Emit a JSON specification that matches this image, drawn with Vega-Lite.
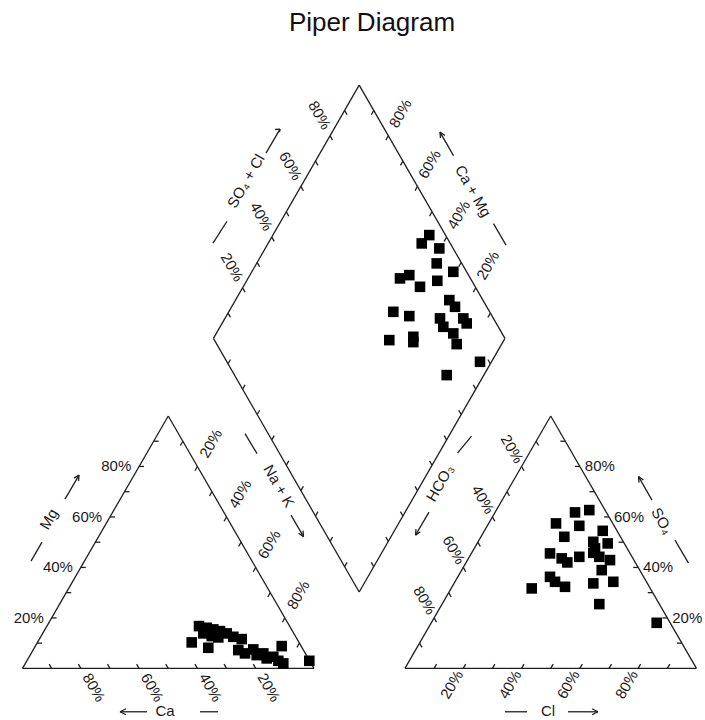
{
  "$schema": "https://vega.github.io/schema/vega-lite/v6.json",
  "width": 705,
  "height": 720,
  "autosize": "none",
  "padding": 0,
  "background": "white",
  "config": {"view": {"stroke": null}, "text": {"font": "Liberation Sans", "fontSize": 15, "color": "#1a1a1a"}},
  "datasets": {
    "segs": [
      {"x": 0, "y": 0, "x2": 100, "y2": 0},
      {"x": 0, "y": 0, "x2": 50, "y2": 86.6},
      {"x": 100, "y": 0, "x2": 50, "y2": 86.6},
      {"x": 131.2, "y": 0, "x2": 231.2, "y2": 0},
      {"x": 131.2, "y": 0, "x2": 181.2, "y2": 86.6},
      {"x": 231.2, "y": 0, "x2": 181.2, "y2": 86.6},
      {"x": 65.5, "y": 113.2, "x2": 115.5, "y2": 200.1},
      {"x": 115.5, "y": 200.1, "x2": 165.5, "y2": 113.2},
      {"x": 165.5, "y": 113.2, "x2": 115.5, "y2": 26.2},
      {"x": 115.5, "y": 26.2, "x2": 65.5, "y2": 113.2},

      {"x": 10, "y": 0, "x2": 9.15, "y2": 1.47},
      {"x": 20, "y": 0, "x2": 19.15, "y2": 1.47},
      {"x": 30, "y": 0, "x2": 29.15, "y2": 1.47},
      {"x": 40, "y": 0, "x2": 39.15, "y2": 1.47},
      {"x": 50, "y": 0, "x2": 49.15, "y2": 1.47},
      {"x": 60, "y": 0, "x2": 59.15, "y2": 1.47},
      {"x": 70, "y": 0, "x2": 69.15, "y2": 1.47},
      {"x": 80, "y": 0, "x2": 79.15, "y2": 1.47},
      {"x": 90, "y": 0, "x2": 89.15, "y2": 1.47},

      {"x": 5, "y": 8.66, "x2": 6.7, "y2": 8.66},
      {"x": 10, "y": 17.32, "x2": 11.7, "y2": 17.32},
      {"x": 15, "y": 25.98, "x2": 16.7, "y2": 25.98},
      {"x": 20, "y": 34.64, "x2": 21.7, "y2": 34.64},
      {"x": 25, "y": 43.3, "x2": 26.7, "y2": 43.3},
      {"x": 30, "y": 51.96, "x2": 31.7, "y2": 51.96},
      {"x": 35, "y": 60.62, "x2": 36.7, "y2": 60.62},
      {"x": 40, "y": 69.28, "x2": 41.7, "y2": 69.28},
      {"x": 45, "y": 77.94, "x2": 46.7, "y2": 77.94},

      {"x": 55, "y": 77.94, "x2": 54.15, "y2": 76.47},
      {"x": 60, "y": 69.28, "x2": 59.15, "y2": 67.81},
      {"x": 65, "y": 60.62, "x2": 64.15, "y2": 59.15},
      {"x": 70, "y": 51.96, "x2": 69.15, "y2": 50.49},
      {"x": 75, "y": 43.3, "x2": 74.15, "y2": 41.83},
      {"x": 80, "y": 34.64, "x2": 79.15, "y2": 33.17},
      {"x": 85, "y": 25.98, "x2": 84.15, "y2": 24.51},
      {"x": 90, "y": 17.32, "x2": 89.15, "y2": 15.85},
      {"x": 95, "y": 8.66, "x2": 94.15, "y2": 7.19},

      {"x": 141.2, "y": 0, "x2": 142.05, "y2": 1.47},
      {"x": 151.2, "y": 0, "x2": 152.05, "y2": 1.47},
      {"x": 161.2, "y": 0, "x2": 162.05, "y2": 1.47},
      {"x": 171.2, "y": 0, "x2": 172.05, "y2": 1.47},
      {"x": 181.2, "y": 0, "x2": 182.05, "y2": 1.47},
      {"x": 191.2, "y": 0, "x2": 192.05, "y2": 1.47},
      {"x": 201.2, "y": 0, "x2": 202.05, "y2": 1.47},
      {"x": 211.2, "y": 0, "x2": 212.05, "y2": 1.47},
      {"x": 221.2, "y": 0, "x2": 222.05, "y2": 1.47},

      {"x": 226.2, "y": 8.66, "x2": 224.5, "y2": 8.66},
      {"x": 221.2, "y": 17.32, "x2": 219.5, "y2": 17.32},
      {"x": 216.2, "y": 25.98, "x2": 214.5, "y2": 25.98},
      {"x": 211.2, "y": 34.64, "x2": 209.5, "y2": 34.64},
      {"x": 206.2, "y": 43.3, "x2": 204.5, "y2": 43.3},
      {"x": 201.2, "y": 51.96, "x2": 199.5, "y2": 51.96},
      {"x": 196.2, "y": 60.62, "x2": 194.5, "y2": 60.62},
      {"x": 191.2, "y": 69.28, "x2": 189.5, "y2": 69.28},
      {"x": 186.2, "y": 77.94, "x2": 184.5, "y2": 77.94},

      {"x": 136.2, "y": 8.66, "x2": 137.05, "y2": 7.19},
      {"x": 141.2, "y": 17.32, "x2": 142.05, "y2": 15.85},
      {"x": 146.2, "y": 25.98, "x2": 147.05, "y2": 24.51},
      {"x": 151.2, "y": 34.64, "x2": 152.05, "y2": 33.17},
      {"x": 156.2, "y": 43.3, "x2": 157.05, "y2": 41.83},
      {"x": 161.2, "y": 51.96, "x2": 162.05, "y2": 50.49},
      {"x": 166.2, "y": 60.62, "x2": 167.05, "y2": 59.15},
      {"x": 171.2, "y": 69.28, "x2": 172.05, "y2": 67.81},
      {"x": 176.2, "y": 77.94, "x2": 177.05, "y2": 76.47},

      {"x": 70.5, "y": 121.89, "x2": 71.35, "y2": 120.42},
      {"x": 75.5, "y": 130.58, "x2": 76.35, "y2": 129.11},
      {"x": 80.5, "y": 139.27, "x2": 81.35, "y2": 137.8},
      {"x": 85.5, "y": 147.96, "x2": 86.35, "y2": 146.49},
      {"x": 90.5, "y": 156.65, "x2": 91.35, "y2": 155.18},
      {"x": 95.5, "y": 165.34, "x2": 96.35, "y2": 163.87},
      {"x": 100.5, "y": 174.03, "x2": 101.35, "y2": 172.56},
      {"x": 105.5, "y": 182.72, "x2": 106.35, "y2": 181.25},
      {"x": 110.5, "y": 191.41, "x2": 111.35, "y2": 189.94},

      {"x": 160.5, "y": 121.89, "x2": 159.65, "y2": 120.42},
      {"x": 155.5, "y": 130.58, "x2": 154.65, "y2": 129.11},
      {"x": 150.5, "y": 139.27, "x2": 149.65, "y2": 137.8},
      {"x": 145.5, "y": 147.96, "x2": 144.65, "y2": 146.49},
      {"x": 140.5, "y": 156.65, "x2": 139.65, "y2": 155.18},
      {"x": 135.5, "y": 165.34, "x2": 134.65, "y2": 163.87},
      {"x": 130.5, "y": 174.03, "x2": 129.65, "y2": 172.56},
      {"x": 125.5, "y": 182.72, "x2": 124.65, "y2": 181.25},
      {"x": 120.5, "y": 191.41, "x2": 119.65, "y2": 189.94},

      {"x": 70.5, "y": 104.5, "x2": 71.35, "y2": 105.97},
      {"x": 75.5, "y": 95.8, "x2": 76.35, "y2": 97.27},
      {"x": 80.5, "y": 87.1, "x2": 81.35, "y2": 88.57},
      {"x": 85.5, "y": 78.4, "x2": 86.35, "y2": 79.87},
      {"x": 90.5, "y": 69.7, "x2": 91.35, "y2": 71.17},
      {"x": 95.5, "y": 61.0, "x2": 96.35, "y2": 62.47},
      {"x": 100.5, "y": 52.3, "x2": 101.35, "y2": 53.77},
      {"x": 105.5, "y": 43.6, "x2": 106.35, "y2": 45.07},
      {"x": 110.5, "y": 34.9, "x2": 111.35, "y2": 36.37},

      {"x": 160.5, "y": 104.5, "x2": 159.65, "y2": 105.97},
      {"x": 155.5, "y": 95.8, "x2": 154.65, "y2": 97.27},
      {"x": 150.5, "y": 87.1, "x2": 149.65, "y2": 88.57},
      {"x": 145.5, "y": 78.4, "x2": 144.65, "y2": 79.87},
      {"x": 140.5, "y": 69.7, "x2": 139.65, "y2": 71.17},
      {"x": 135.5, "y": 61.0, "x2": 134.65, "y2": 62.47},
      {"x": 130.5, "y": 52.3, "x2": 129.65, "y2": 53.77},
      {"x": 125.5, "y": 43.6, "x2": 124.65, "y2": 45.07},
      {"x": 120.5, "y": 34.9, "x2": 119.65, "y2": 36.37},

      {"x": 2.92, "y": 36.81, "x2": 6.69, "y2": 43.33},
      {"x": 14.58, "y": 58.08, "x2": 19.38, "y2": 66.31},
      {"x": 19.38, "y": 66.31, "x2": 19.21, "y2": 64.25},
      {"x": 19.38, "y": 66.31, "x2": 17.67, "y2": 65.28},

      {"x": 33.45, "y": -14.88, "x2": 42.71, "y2": -14.88},
      {"x": 33.45, "y": -14.88, "x2": 35.51, "y2": -13.85},
      {"x": 33.45, "y": -14.88, "x2": 35.51, "y2": -15.91},
      {"x": 60.89, "y": -14.88, "x2": 67.07, "y2": -14.88},

      {"x": 76.33, "y": 80.55, "x2": 80.45, "y2": 73.69},
      {"x": 92.11, "y": 52.59, "x2": 96.4, "y2": 45.21},
      {"x": 96.4, "y": 45.21, "x2": 94.72, "y2": 46.38},
      {"x": 96.4, "y": 45.21, "x2": 96.23, "y2": 47.27},

      {"x": 65.35, "y": 145.9, "x2": 70.15, "y2": 153.4},
      {"x": 83.53, "y": 176.78, "x2": 88.34, "y2": 185.0},
      {"x": 88.34, "y": 185.0, "x2": 88.16, "y2": 184.0},
      {"x": 88.34, "y": 185.0, "x2": 86.66, "y2": 184.87},

      {"x": 143.22, "y": 183.98, "x2": 147.86, "y2": 175.92},
      {"x": 143.22, "y": 183.98, "x2": 144.9, "y2": 182.8},
      {"x": 143.22, "y": 183.98, "x2": 143.4, "y2": 181.9},
      {"x": 161.58, "y": 152.59, "x2": 165.87, "y2": 145.21},

      {"x": 149.23, "y": 73.86, "x2": 154.03, "y2": 79.69},
      {"x": 139.45, "y": 53.62, "x2": 134.82, "y2": 45.73},
      {"x": 134.82, "y": 45.73, "x2": 134.99, "y2": 47.79},
      {"x": 134.82, "y": 45.73, "x2": 136.5, "y2": 46.9},

      {"x": 211.32, "y": 65.8, "x2": 215.95, "y2": 57.74},
      {"x": 211.32, "y": 65.8, "x2": 213.0, "y2": 64.63},
      {"x": 211.32, "y": 65.8, "x2": 211.49, "y2": 63.74},
      {"x": 223.84, "y": 44.01, "x2": 228.47, "y2": 36.12},

      {"x": 165.52, "y": -14.88, "x2": 173.07, "y2": -14.88},
      {"x": 187.14, "y": -14.88, "x2": 197.43, "y2": -14.88},
      {"x": 197.43, "y": -14.88, "x2": 195.37, "y2": -13.85},
      {"x": 197.43, "y": -14.88, "x2": 195.37, "y2": -15.91}
    ],
    "labels": [
      {"t": "20%", "x": 7.3, "y": 17.32, "g": "hr"},
      {"t": "40%", "x": 17.3, "y": 34.64, "g": "hr"},
      {"t": "60%", "x": 27.3, "y": 51.96, "g": "hr"},
      {"t": "80%", "x": 37.3, "y": 69.28, "g": "hr"},
      {"t": "20%", "x": 222.9, "y": 17.32, "g": "hl"},
      {"t": "40%", "x": 212.9, "y": 34.64, "g": "hl"},
      {"t": "60%", "x": 202.9, "y": 51.96, "g": "hl"},
      {"t": "80%", "x": 192.9, "y": 69.28, "g": "hl"},
      {"t": "80%", "x": 21.89, "y": -2.13, "g": "r60l"},
      {"t": "60%", "x": 41.89, "y": -2.13, "g": "r60l"},
      {"t": "40%", "x": 61.89, "y": -2.13, "g": "r60l"},
      {"t": "20%", "x": 81.89, "y": -2.13, "g": "r60l"},
      {"t": "20%", "x": 170.51, "y": 70.82, "g": "r60r"},
      {"t": "40%", "x": 160.51, "y": 53.5, "g": "r60r"},
      {"t": "60%", "x": 150.51, "y": 36.18, "g": "r60r"},
      {"t": "80%", "x": 140.51, "y": 18.86, "g": "r60r"},
      {"t": "20%", "x": 74.47, "y": 133.15, "g": "r60r"},
      {"t": "40%", "x": 84.47, "y": 150.53, "g": "r60r"},
      {"t": "60%", "x": 94.47, "y": 167.91, "g": "r60r"},
      {"t": "80%", "x": 104.47, "y": 185.29, "g": "r60r"},
      {"t": "20%", "x": 62.06, "y": 72.71, "g": "m60l"},
      {"t": "40%", "x": 72.06, "y": 55.39, "g": "m60l"},
      {"t": "60%", "x": 82.06, "y": 38.07, "g": "m60l"},
      {"t": "80%", "x": 92.06, "y": 20.75, "g": "m60l"},
      {"t": "20%", "x": 157.08, "y": 133.74, "g": "m60l"},
      {"t": "40%", "x": 147.08, "y": 151.12, "g": "m60l"},
      {"t": "60%", "x": 137.08, "y": 168.5, "g": "m60l"},
      {"t": "80%", "x": 127.08, "y": 185.88, "g": "m60l"},
      {"t": "20%", "x": 149.83, "y": -1.1, "g": "m60r"},
      {"t": "40%", "x": 169.83, "y": -1.1, "g": "m60r"},
      {"t": "60%", "x": 189.83, "y": -1.1, "g": "m60r"},
      {"t": "80%", "x": 209.83, "y": -1.1, "g": "m60r"},
      {"t": "Ca", "x": 48.89, "y": -14.6, "g": "t0"},
      {"t": "Cl", "x": 180.27, "y": -14.6, "g": "t0"},
      {"t": "Na + K", "x": 87.99, "y": 62.54, "g": "t60"},
      {"t": "Ca + Mg", "x": 154.55, "y": 163.74, "g": "t60"},
      {"t": "SO₄", "x": 219.38, "y": 50.53, "g": "t60"},
      {"t": "Mg", "x": 9.09, "y": 51.22, "g": "tm60"},
      {"t": "SO₄ + Cl", "x": 76.67, "y": 167.17, "g": "tm60"},
      {"t": "HCO₃", "x": 143.22, "y": 63.57, "g": "tm60"},
      {"t": "Piper Diagram", "x": 119.9, "y": 218.6, "g": "title"}
    ],
    "points": [
      {"panel": "cations", "x": 60.55, "y": 14.51},
      {"panel": "cations", "x": 63.19, "y": 13.93},
      {"panel": "cations", "x": 65.45, "y": 13.38},
      {"panel": "cations", "x": 67.75, "y": 12.8},
      {"panel": "cations", "x": 70.05, "y": 12.01},
      {"panel": "cations", "x": 72.32, "y": 10.84},
      {"panel": "cations", "x": 75.2, "y": 10.05},
      {"panel": "cations", "x": 62.02, "y": 12.01},
      {"panel": "cations", "x": 64.91, "y": 11.08},
      {"panel": "cations", "x": 67.17, "y": 10.63},
      {"panel": "cations", "x": 74.03, "y": 6.28},
      {"panel": "cations", "x": 76.33, "y": 5.15},
      {"panel": "cations", "x": 79.18, "y": 6.52},
      {"panel": "cations", "x": 80.34, "y": 4.56},
      {"panel": "cations", "x": 82.61, "y": 5.15},
      {"panel": "cations", "x": 83.77, "y": 3.43},
      {"panel": "cations", "x": 86.04, "y": 3.98},
      {"panel": "cations", "x": 87.75, "y": 2.61},
      {"panel": "cations", "x": 89.47, "y": 1.72},
      {"panel": "cations", "x": 88.92, "y": 7.65},
      {"panel": "cations", "x": 98.39, "y": 2.61},
      {"panel": "cations", "x": 58.04, "y": 8.92},
      {"panel": "cations", "x": 63.74, "y": 7.07},
      {"panel": "anions", "x": 189.54, "y": 53.52},
      {"panel": "anions", "x": 194.44, "y": 54.31},
      {"panel": "anions", "x": 183.02, "y": 49.74},
      {"panel": "anions", "x": 191.01, "y": 48.92},
      {"panel": "anions", "x": 199.04, "y": 47.2},
      {"panel": "anions", "x": 185.87, "y": 45.15},
      {"panel": "anions", "x": 195.81, "y": 43.43},
      {"panel": "anions", "x": 200.75, "y": 42.88},
      {"panel": "anions", "x": 196.4, "y": 41.17},
      {"panel": "anions", "x": 180.96, "y": 39.45},
      {"panel": "anions", "x": 184.97, "y": 37.74},
      {"panel": "anions", "x": 186.9, "y": 36.36},
      {"panel": "anions", "x": 191.01, "y": 38.28},
      {"panel": "anions", "x": 195.81, "y": 39.66},
      {"panel": "anions", "x": 197.87, "y": 38.28},
      {"panel": "anions", "x": 201.54, "y": 37.15},
      {"panel": "anions", "x": 198.7, "y": 33.72},
      {"panel": "anions", "x": 195.81, "y": 29.16},
      {"panel": "anions", "x": 202.68, "y": 29.71},
      {"panel": "anions", "x": 180.96, "y": 31.42},
      {"panel": "anions", "x": 182.68, "y": 29.71},
      {"panel": "anions", "x": 186.11, "y": 27.99},
      {"panel": "anions", "x": 174.68, "y": 27.44},
      {"panel": "anions", "x": 197.87, "y": 22.06},
      {"panel": "anions", "x": 217.56, "y": 15.64},
      {"panel": "diamond", "x": 139.55, "y": 148.65},
      {"panel": "diamond", "x": 136.95, "y": 145.8},
      {"panel": "diamond", "x": 142.99, "y": 144.08},
      {"panel": "diamond", "x": 142.09, "y": 138.94},
      {"panel": "diamond", "x": 147.79, "y": 136.05},
      {"panel": "diamond", "x": 129.5, "y": 133.79},
      {"panel": "diamond", "x": 132.69, "y": 134.92},
      {"panel": "diamond", "x": 136.36, "y": 130.91},
      {"panel": "diamond", "x": 142.3, "y": 132.97},
      {"panel": "diamond", "x": 146.42, "y": 126.35},
      {"panel": "diamond", "x": 148.37, "y": 124.05},
      {"panel": "diamond", "x": 143.22, "y": 120.07},
      {"panel": "diamond", "x": 151.22, "y": 120.07},
      {"panel": "diamond", "x": 152.38, "y": 118.35},
      {"panel": "diamond", "x": 127.2, "y": 122.33},
      {"panel": "diamond", "x": 132.69, "y": 120.86},
      {"panel": "diamond", "x": 144.36, "y": 117.19},
      {"panel": "diamond", "x": 147.79, "y": 114.92},
      {"panel": "diamond", "x": 125.83, "y": 112.62},
      {"panel": "diamond", "x": 134.07, "y": 113.76},
      {"panel": "diamond", "x": 134.07, "y": 111.94},
      {"panel": "diamond", "x": 148.95, "y": 111.25},
      {"panel": "diamond", "x": 156.95, "y": 105.18},
      {"panel": "diamond", "x": 145.52, "y": 100.62}
    ]
  },
  "encoding": {
    "x": {"field": "x", "type": "quantitative", "scale": {"domain": [-7.72, 234.13], "nice": false, "zero": false}, "axis": null},
    "y": {"field": "y", "type": "quantitative", "scale": {"domain": [-17.7, 229.3], "nice": false, "zero": false}, "axis": null}
  },
  "layer": [
    {
      "data": {"name": "segs"},
      "mark": {"type": "rule", "color": "#1f1f1f", "strokeWidth": 1.3},
      "encoding": {"x2": {"field": "x2"}, "y2": {"field": "y2"}}
    },
    {
      "data": {"name": "points"},
      "mark": {"type": "point", "shape": "square", "filled": true, "size": 112, "color": "#000000", "opacity": 1}
    },
    {
      "data": {"name": "labels"},
      "transform": [{"filter": "datum.g == 'hr'"}],
      "mark": {"type": "text", "align": "right", "baseline": "middle"},
      "encoding": {"text": {"field": "t"}}
    },
    {
      "data": {"name": "labels"},
      "transform": [{"filter": "datum.g == 'hl'"}],
      "mark": {"type": "text", "align": "left", "baseline": "middle"},
      "encoding": {"text": {"field": "t"}}
    },
    {
      "data": {"name": "labels"},
      "transform": [{"filter": "datum.g == 'r60l'"}],
      "mark": {"type": "text", "align": "left", "baseline": "middle", "angle": 60},
      "encoding": {"text": {"field": "t"}}
    },
    {
      "data": {"name": "labels"},
      "transform": [{"filter": "datum.g == 'r60r'"}],
      "mark": {"type": "text", "align": "right", "baseline": "middle", "angle": 60},
      "encoding": {"text": {"field": "t"}}
    },
    {
      "data": {"name": "labels"},
      "transform": [{"filter": "datum.g == 'm60l'"}],
      "mark": {"type": "text", "align": "left", "baseline": "middle", "angle": 300},
      "encoding": {"text": {"field": "t"}}
    },
    {
      "data": {"name": "labels"},
      "transform": [{"filter": "datum.g == 'm60r'"}],
      "mark": {"type": "text", "align": "right", "baseline": "middle", "angle": 300},
      "encoding": {"text": {"field": "t"}}
    },
    {
      "data": {"name": "labels"},
      "transform": [{"filter": "datum.g == 't0'"}],
      "mark": {"type": "text", "align": "center", "baseline": "middle"},
      "encoding": {"text": {"field": "t"}}
    },
    {
      "data": {"name": "labels"},
      "transform": [{"filter": "datum.g == 't60'"}],
      "mark": {"type": "text", "align": "center", "baseline": "middle", "angle": 60},
      "encoding": {"text": {"field": "t"}}
    },
    {
      "data": {"name": "labels"},
      "transform": [{"filter": "datum.g == 'tm60'"}],
      "mark": {"type": "text", "align": "center", "baseline": "middle", "angle": 300},
      "encoding": {"text": {"field": "t"}}
    },
    {
      "data": {"name": "labels"},
      "transform": [{"filter": "datum.g == 'title'"}],
      "mark": {"type": "text", "align": "center", "baseline": "alphabetic", "fontSize": 26, "color": "#111111"},
      "encoding": {"text": {"field": "t"}}
    }
  ]
}
